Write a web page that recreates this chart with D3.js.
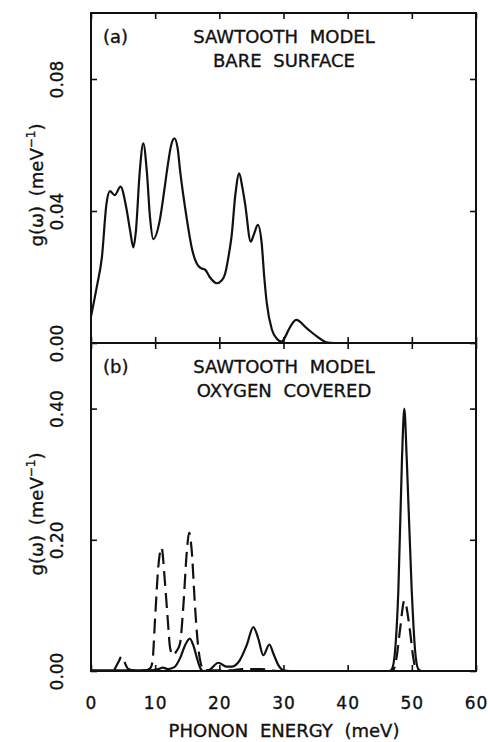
<!DOCTYPE html>
<html>
<head>
<meta charset="utf-8">
<script src="https://cdn.jsdelivr.net/npm/d3@7"></script>
<style>
  body { margin: 0; background: #fff; }
  svg text { font-family: "DejaVu Sans", sans-serif; fill: #111; stroke: #111; stroke-width: 0.35px; }
</style>
</head>
<body>
<div id="elements"></div>
<script>
// Panel (a): bare surface, [energy meV, g(w)]
const bareSurface = [
  [0, 0.008], [0.9, 0.017], [1.7, 0.026], [2.4, 0.042], [2.95, 0.046],
  [3.7, 0.0448], [4.6, 0.0474], [5.5, 0.041], [6.1, 0.034], [6.6, 0.029],
  [7.0, 0.034], [7.6, 0.052], [8.15, 0.0605], [8.7, 0.052], [9.2, 0.038],
  [9.7, 0.0315], [10.7, 0.037], [11.4, 0.046], [11.9, 0.053], [12.5, 0.06],
  [13.0, 0.062], [13.5, 0.059], [13.9, 0.052], [14.9, 0.038], [15.8, 0.028],
  [16.5, 0.024], [17.1, 0.0227], [17.8, 0.0222], [18.5, 0.02], [19.6, 0.0181],
  [20.4, 0.019], [20.9, 0.021], [21.5, 0.027], [21.9, 0.0322], [22.5, 0.045],
  [23.1, 0.0514], [23.6, 0.047], [24.0, 0.0424], [24.9, 0.0307], [25.4, 0.033],
  [26.0, 0.0358], [26.6, 0.0302], [27.0, 0.02], [27.4, 0.012], [28.2, 0.004],
  [29.0, 0.0012], [29.7, 0.0004], [30.3, 0.002], [30.8, 0.004], [32.0, 0.007],
  [33.6, 0.0045], [35.2, 0.002], [36.7, 0.0002], [38, 0]
];

// Panel (b): oxygen covered, solid and dashed curves
const oxygenSolid = [
  [0, 0.001], [5, 0.001], [9, 0.001], [10.5, 0.003], [11.2, 0.005], [12, 0.003],
  [13, 0.006], [13.9, 0.02], [14.65, 0.039], [15.4, 0.0495], [15.95, 0.039],
  [16.5, 0.02], [17.0, 0.005], [17.5, 0], [18.5, 0.002], [19.85, 0.0126],
  [21.1, 0.0066], [21.9, 0.0066], [23.2, 0.0167], [24.25, 0.039], [25.3, 0.067],
  [26.07, 0.0495], [26.85, 0.024], [27.8, 0.0404], [28.4, 0.027], [29.2, 0.009],
  [30.0, 0.001], [31, 0], [46.5, 0], [46.9, 0.003], [47.4, 0.032], [47.9, 0.123],
  [48.47, 0.325], [48.83, 0.4], [49.2, 0.325], [49.98, 0.123], [50.5, 0.032],
  [51.0, 0.003], [51.5, 0], [60, 0]
];

const oxygenDashed = [
  [3.6, 0.001], [4.3, 0.014], [4.75, 0.022], [5.2, 0.014], [5.8, 0.003],
  [6.5, 0.001], [8.5, 0.001], [9.3, 0.005], [9.6, 0.016], [9.97, 0.077],
  [10.5, 0.16], [11.0, 0.188], [11.5, 0.138], [12.05, 0.067], [12.3, 0.037],
  [12.73, 0.024], [13.3, 0.03], [13.87, 0.042], [14.4, 0.1], [14.9, 0.178],
  [15.3, 0.211], [15.7, 0.183], [16.2, 0.1], [16.7, 0.037], [17.1, 0.012],
  [17.5, 0.002], [18.5, 0.001], [22, 0.001], [23.5, 0.003], [25, 0.003],
  [26.5, 0.003], [28, 0.001], [30, 0], [46.8, 0], [47.2, 0.003], [47.64, 0.022],
  [48.15, 0.062], [48.83, 0.107], [49.7, 0.062], [50.2, 0.022], [50.6, 0.003], [51, 0]
];

const xTicks = [0, 10, 20, 30, 40, 50, 60];
const yTicksA = [0, 0.04, 0.08];
const yTicksB = [0, 0.2, 0.4];
const titlesA = ["SAWTOOTH MODEL", "BARE SURFACE"];
const titlesB = ["SAWTOOTH MODEL", "OXYGEN COVERED"];

const svg = d3.create("svg")
  .attr("width", 488)
  .attr("height", 742);
document.getElementById("elements").appendChild(svg.node());

svg.append("rect").attr("width", 488).attr("height", 742).attr("fill", "#fff");

const x = d3.scaleLinear().domain([0, 60]).range([91, 476]);
const yA = d3.scaleLinear().domain([0, 0.1]).range([343, 13]);
const yB = d3.scaleLinear().domain([0, 0.5]).range([671, 343]);

const line = (y) => d3.line()
  .x(d => x(d[0]))
  .y(d => y(d[1]))
  .curve(d3.curveMonotoneX);

function drawPanel(y, yTicks, tag, titles, series, showXLabels) {
  const top = y.range()[1], bottom = y.range()[0];
  const g = svg.append("g");

  // inward ticks on all four sides
  g.append("g").attr("transform", `translate(0,${top})`)
    .call(d3.axisTop(x).tickValues(xTicks).tickSize(-6).tickFormat(""));
  const bx = g.append("g").attr("transform", `translate(0,${bottom})`)
    .call(d3.axisBottom(x).tickValues(xTicks).tickSize(-6)
      .tickFormat(showXLabels ? d3.format("d") : ""));
  bx.selectAll("text")
    .attr("y", 26)
    .attr("font-size", "17px")
    .attr("letter-spacing", "1px");

  const ly = g.append("g").attr("transform", `translate(${x(0)},0)`)
    .call(d3.axisLeft(y).tickValues(yTicks).tickSize(-6).tickFormat(d3.format(".2f")));
  ly.selectAll("text")
    .attr("x", 0)
    .attr("y", -28)
    .attr("dy", 0)
    .attr("text-anchor", "middle")
    .attr("transform", "rotate(-90)")
    .attr("font-size", "17px");

  g.append("g").attr("transform", `translate(${x(60)},0)`)
    .call(d3.axisRight(y).tickValues(yTicks).tickSize(-6).tickFormat(""));

  g.selectAll(".domain").remove();
  g.selectAll(".tick line").attr("stroke", "#111").attr("stroke-width", 1.6);
  g.selectAll(".tick text").attr("fill", "#111").attr("font-family", "DejaVu Sans");

  // curves
  series.forEach(s => {
    g.append("path")
      .datum(s.data)
      .attr("d", line(y))
      .attr("fill", "none")
      .attr("stroke", "#111")
      .attr("stroke-width", 2.2)
      .attr("stroke-linejoin", "round")
      .attr("stroke-dasharray", s.dash || null);
  });

  // frame
  g.append("rect")
    .attr("x", x(0)).attr("y", top)
    .attr("width", x(60) - x(0)).attr("height", bottom - top)
    .attr("fill", "none").attr("stroke", "#111").attr("stroke-width", 2);

  // labels
  g.append("text")
    .attr("x", 103).attr("y", top + 30)
    .attr("font-size", "18px")
    .text(tag);
  titles.forEach((t, i) => {
    g.append("text")
      .attr("x", 284).attr("y", top + 30 + i * 24)
      .attr("text-anchor", "middle")
      .attr("font-size", "18px")
      .attr("word-spacing", "6px")
      .text(t);
  });

  const yt = g.append("text")
    .attr("transform", `translate(43,${(top + bottom) / 2 + 7}) rotate(-90)`)
    .attr("text-anchor", "middle")
    .attr("font-size", "18px")
    .attr("word-spacing", "4px");
  yt.append("tspan").text("g(ω) (meV");
  yt.append("tspan").attr("font-size", "12px").attr("dy", -8).text("−1");
  yt.append("tspan").attr("dy", 8).text(")");
}

drawPanel(yA, yTicksA, "(a)", titlesA, [{ data: bareSurface }], false);
drawPanel(yB, yTicksB, "(b)", titlesB,
  [{ data: oxygenSolid }, { data: oxygenDashed, dash: "15,7" }], true);

svg.append("text")
  .attr("x", 284).attr("y", 737)
  .attr("text-anchor", "middle")
  .attr("font-size", "18px")
  .attr("word-spacing", "6px")
  .text("PHONON ENERGY (meV)");
</script>
</body>
</html>
